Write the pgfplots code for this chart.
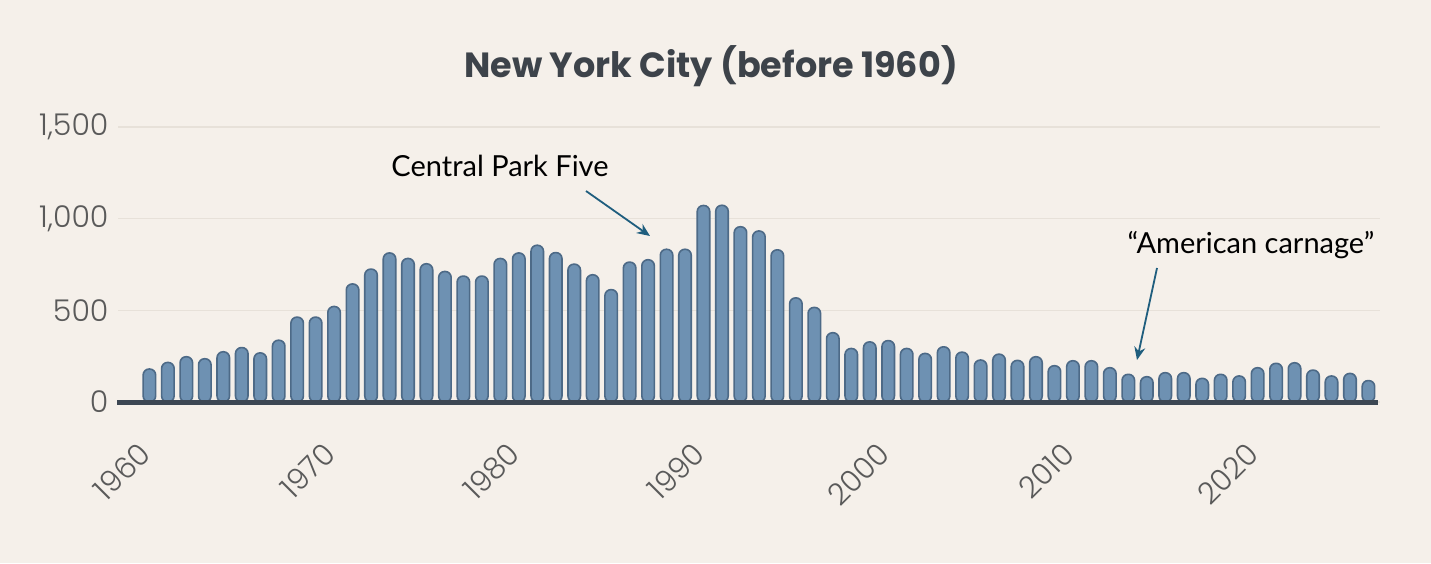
\documentclass[border=0pt]{standalone}
\usepackage{pgfplots}
\pgfplotsset{compat=1.18}
\usepackage{pgfplotstable}
\usepackage{fontspec}
\setmainfont{Poppins}
\newfontfamily\tickfont{Poppins Light}
\newfontfamily\annfont{Lato}
\usetikzlibrary{arrows.meta}
\definecolor{bg}{HTML}{F5F0EA}
\definecolor{gridc}{HTML}{E7E1D9}
\definecolor{barfill}{HTML}{6E91B2}
\definecolor{barline}{HTML}{4D6A87}
\definecolor{basec}{HTML}{3C4753}
\definecolor{tickc}{HTML}{5A5A5A}
\definecolor{titlec}{HTML}{3D434A}
\definecolor{arrowc}{HTML}{1F5E7E}
\pgfplotstableread{
year value
1960 180
1961 216
1962 247
1963 236
1964 274
1965 297
1966 268
1967 337
1968 463
1969 463
1970 521
1971 644
1972 725
1973 813
1974 783
1975 754
1976 712
1977 687
1978 687
1979 783
1980 813
1981 855
1982 815
1983 752
1984 694
1985 613
1986 763
1987 776
1988 833
1989 833
1990 1072
1991 1073
1992 956
1993 933
1994 830
1995 568
1996 516
1997 378
1998 292
1999 328
2000 335
2001 292
2002 265
2003 301
2004 272
2005 229
2006 261
2007 227
2008 247
2009 198
2010 225
2011 225
2012 187
2013 151
2014 138
2015 160
2016 160
2017 129
2018 151
2019 142
2020 187
2021 211
2022 214
2023 174
2024 142
2025 156
2026 117
}\datatable
\begin{document}
\begin{tikzpicture}[x=1pt,y=1pt]
\fill[bg] (0,0) rectangle (1431,563);
\begin{axis}[
  at={(118pt,161pt)}, anchor=south west,
  scale only axis, width=1262pt, height=275pt,
  xmin=1958.3, xmax=2026.63, ymin=0, ymax=1500,
  axis line style={draw=none},
  ytick={0,500,1000,1500},
  xtick={1960,1970,...,2020},
  major tick length=0pt,
  ymajorgrids, grid style={gridc, line width=1.5pt},
  /pgf/number format/assume math mode=true,
  /pgf/number format/1000 sep={,},
  x tick label style={/pgf/number format/1000 sep={}},
  yticklabel style={font=\tickfont\fontsize{30}{33}\selectfont, text=tickc, xshift=-6pt},
  xticklabel style={font=\tickfont\fontsize{30}{33}\selectfont, text=tickc, yshift=-44pt, xshift=-2pt, rotate=45, anchor=east},
  clip=false,
]
\addplot[ybar, bar width=12.5pt, fill=barfill, draw=barline, line width=1.6pt, rounded corners=6pt] table[x=year, y=value] {\datatable};
\draw[basec, line width=5pt] (axis cs:1958.25,0) -- (axis cs:2026.5,0);
\end{axis}
\node[text=titlec, font=\fontsize{35}{40}\bfseries\selectfont] at (711,497) {New York City (before 1960)};
\node[font=\annfont\fontsize{29}{33}\selectfont] at (500,397) {Central Park Five};
\node[font=\annfont\fontsize{29}{33}\selectfont] at (1251,318) {“American carnage”};
\draw[arrowc, line width=1.8pt, -{Stealth[length=13pt,width=11pt]}] (586,372) -- (650,327);
\draw[arrowc, line width=1.8pt, -{Stealth[length=13pt,width=11pt]}] (1157,295) -- (1137,203);
\end{tikzpicture}
\end{document}
